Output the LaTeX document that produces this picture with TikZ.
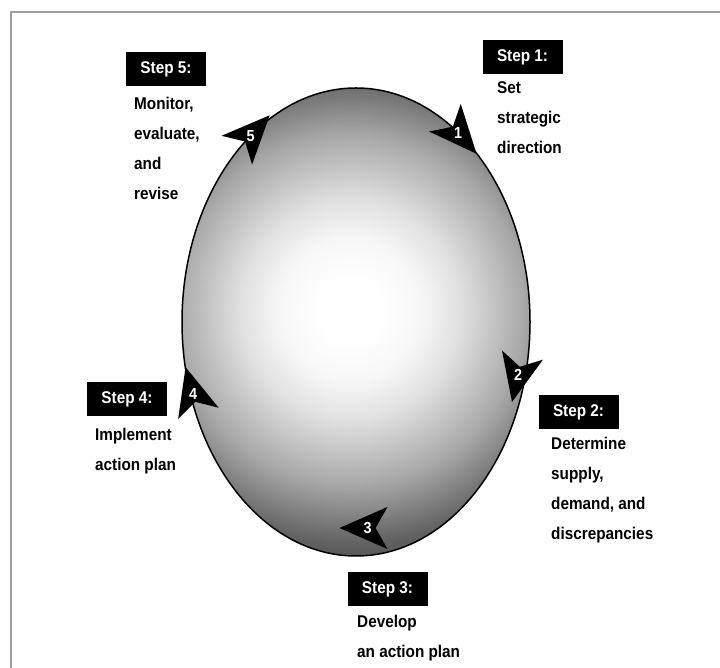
\documentclass[tikz,border=0pt]{standalone}
\usepackage{fontspec}
\setmainfont{Liberation Sans}[FakeStretch=0.9]
\usetikzlibrary{shapes.geometric,positioning}

\pgfdeclareradialshading{cycleshade}{\pgfpoint{0bp}{0bp}}{%
  color(0bp)=(white); color(3bp)=(white); color(7bp)=(black!3); color(11bp)=(black!12);
  color(17.4bp)=(black!34); color(23.4bp)=(black!62); color(25bp)=(black!66); color(50bp)=(black!66)}

\tikzset{
  stepbox/.style={fill=black,text=white,minimum width=80,minimum height=34,inner sep=0,
    font=\bfseries\fontsize{17}{20}\selectfont},
  stepdesc/.style={anchor=north west,align=left,inner sep=0,
    font=\bfseries\fontsize{17}{30}\selectfont},
  pics/stepmark/.style={code={
    \fill (24,0) -- (-24,21) -- (-12,0) -- (-24,-21) -- cycle;
    \node[text=white,inner sep=0,font=\bfseries\fontsize{16}{16}\selectfont] (-num) at (-4,0) {#1};
  }},
}

\begin{document}
\begin{tikzpicture}[x=1pt,y=1pt]
    \useasboundingbox (0,0) rectangle (720,668);
    % frame
    \draw[black!38,line width=2.5] (720,656) -- (11,656) -- (11,0);

    % the cycle
    \begin{scope}
      \clip (356,346) ellipse [x radius=174,y radius=234];
      \shade[shading=cycleshade] (350,358) circle [radius=250];
    \end{scope}
    \node[ellipse,draw,line width=1.5,minimum width=348,minimum height=468] (cycle) at (356,346) {};

    \pic[rotate=-48.8] (m1) at (460.75,532.25) {stepmark=1};
    \pic[rotate=-102.6] (m2) at (517.25,289.5) {stepmark=2};
    \pic[rotate=180] (m3) at (363.5,140) {stepmark=3};
    \pic[rotate=105.5] (m4) at (192,277.75) {stepmark=4};
    \pic[rotate=46.7] (m5) at (253.25,535.25) {stepmark=5};

    % steps
    \node[stepbox] (s1) at (522.5,611) {Step 1:};
    \node[stepdesc] (d1) at (497,587) {Set\\strategic\\direction};

    \node[stepbox] (s2) at (578.5,256) {Step 2:};
    \node[stepdesc] (d2) at (551,231) {Determine\\supply,\\demand, and\\discrepancies};

    \node[stepbox] (s3) at (387.5,78.5) {Step 3:};
    \node[stepdesc] (d3) at (357,53) {Develop\\an action plan};

    \node[stepbox] (s4) at (127,269) {Step 4:};
    \node[stepdesc] (d4) at (95,240) {Implement\\action plan};

    \node[stepbox] (s5) at (166,599) {Step 5:};
    \node[stepdesc] (d5) at (134,571) {Monitor,\\evaluate,\\and\\revise};
\end{tikzpicture}
\end{document}
